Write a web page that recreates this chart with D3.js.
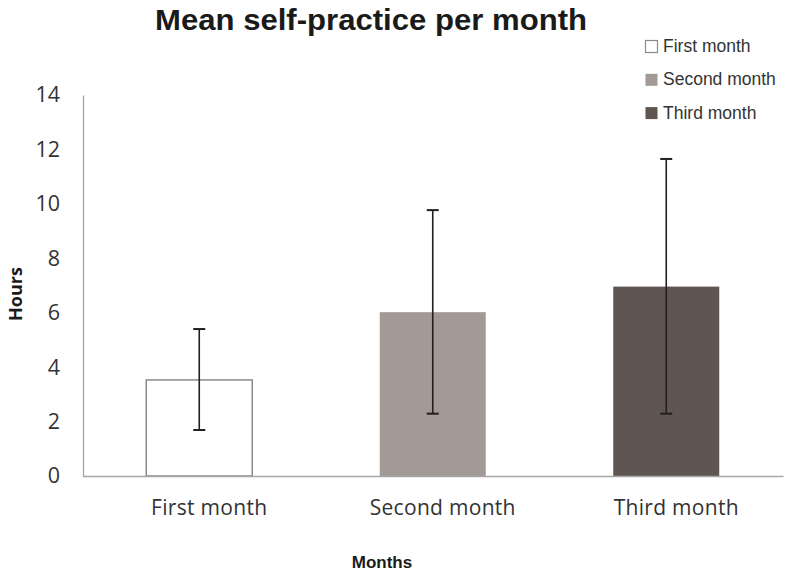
<!DOCTYPE html>
<html><head><meta charset="utf-8">
<script src="https://cdn.jsdelivr.net/npm/d3@7"></script>
<style>body{margin:0;background:#fff}</style>
</head><body><svg id="c" width="790" height="578"></svg>
<script>
const categories = ["First month", "Second month", "Third month"];
const means = [3.53, 6.02, 6.96];
const errLow = [1.69, 2.29, 2.29];
const errHigh = [5.4, 9.77, 11.65];
const yTicks = [0, 2, 4, 6, 8, 10, 12, 14];
const colors = ["#ffffff", "#a39995", "#5f5651"];
const strokes = ["#8a8a8a", "none", "none"];

const svg = d3.select("#c");
const x = d3.scaleBand().domain(categories).range([82.5, 783]).paddingInner(0.546).paddingOuter(0.273);
const y = d3.scaleLinear().domain([0, 14]).range([476, 95]);

// y axis
const ya = svg.append("g").attr("transform", "translate(83,0)")
  .call(d3.axisLeft(y).tickValues(yTicks).tickSize(0).tickPadding(23).tickFormat(d3.format("d")));
ya.select(".domain").attr("stroke", "#a6a6a6").attr("stroke-width", 1.3);
ya.selectAll("text").attr("font-family", "'Open Sans', sans-serif").attr("font-size", 21.5).attr("fill", "#333");

// bars
svg.selectAll("rect.bar").data(categories).join("rect")
  .attr("x", d => x(d)).attr("width", x.bandwidth())
  .attr("y", (d, i) => y(means[i])).attr("height", (d, i) => y(0) - y(means[i]))
  .attr("fill", (d, i) => colors[i]).attr("stroke", (d, i) => strokes[i]).attr("stroke-width", 1.5);

// x axis
const xa = svg.append("g").attr("transform", "translate(0,476)")
  .call(d3.axisBottom(x).tickSize(0).tickPadding(24));
xa.select(".domain").attr("stroke", "#a6a6a6").attr("stroke-width", 1.5);
xa.selectAll("text").attr("font-family", "'Open Sans', sans-serif").attr("font-size", 21)
  .attr("letter-spacing", 0.3).attr("dx", 10).attr("fill", "#333");

// error bars
const eg = svg.append("g").attr("stroke", "#231f1f").attr("stroke-width", 1.6);
categories.forEach((c, i) => {
  const cx = x(c) + x.bandwidth() / 2;
  eg.append("line").attr("x1", cx).attr("x2", cx).attr("y1", y(errLow[i])).attr("y2", y(errHigh[i]));
  eg.append("line").attr("x1", cx - 6).attr("x2", cx + 6).attr("y1", y(errLow[i])).attr("y2", y(errLow[i])).attr("stroke-width", 2);
  eg.append("line").attr("x1", cx - 6).attr("x2", cx + 6).attr("y1", y(errHigh[i])).attr("y2", y(errHigh[i])).attr("stroke-width", 2);
});

// title
svg.append("text").attr("x", 371).attr("y", 30).attr("text-anchor", "middle")
  .attr("font-family", "'Liberation Sans', Arial, sans-serif").attr("font-weight", "bold")
  .attr("font-size", 29.5).attr("textLength", 432).attr("lengthAdjust", "spacingAndGlyphs")
  .attr("fill", "#1a1a1a").text("Mean self-practice per month");

// axis titles
svg.append("text").attr("transform", "translate(22,294) rotate(-90)").attr("text-anchor", "middle")
  .attr("font-family", "'Open Sans', sans-serif").attr("font-weight", "bold")
  .attr("font-size", 18).attr("fill", "#1a1a1a").text("Hours");
svg.append("text").attr("x", 382).attr("y", 568).attr("text-anchor", "middle")
  .attr("font-family", "'Liberation Sans', Arial, sans-serif").attr("font-weight", "bold")
  .attr("font-size", 17).attr("fill", "#1a1a1a").text("Months");

// legend
const lg = svg.append("g");
categories.forEach((c, i) => {
  const ly = 40 + i * 33.3;
  lg.append("rect").attr("x", 645.5).attr("y", ly + 0.5).attr("width", 12).attr("height", 12)
    .attr("fill", colors[i]).attr("stroke", i === 0 ? "#8a8a8a" : "none").attr("stroke-width", 1.2);
  lg.append("text").attr("x", 663).attr("y", ly + 12).attr("font-family", "'Liberation Sans', Arial, sans-serif")
    .attr("font-size", 17.5).attr("fill", "#333").text(c);
});
</script></body></html>
